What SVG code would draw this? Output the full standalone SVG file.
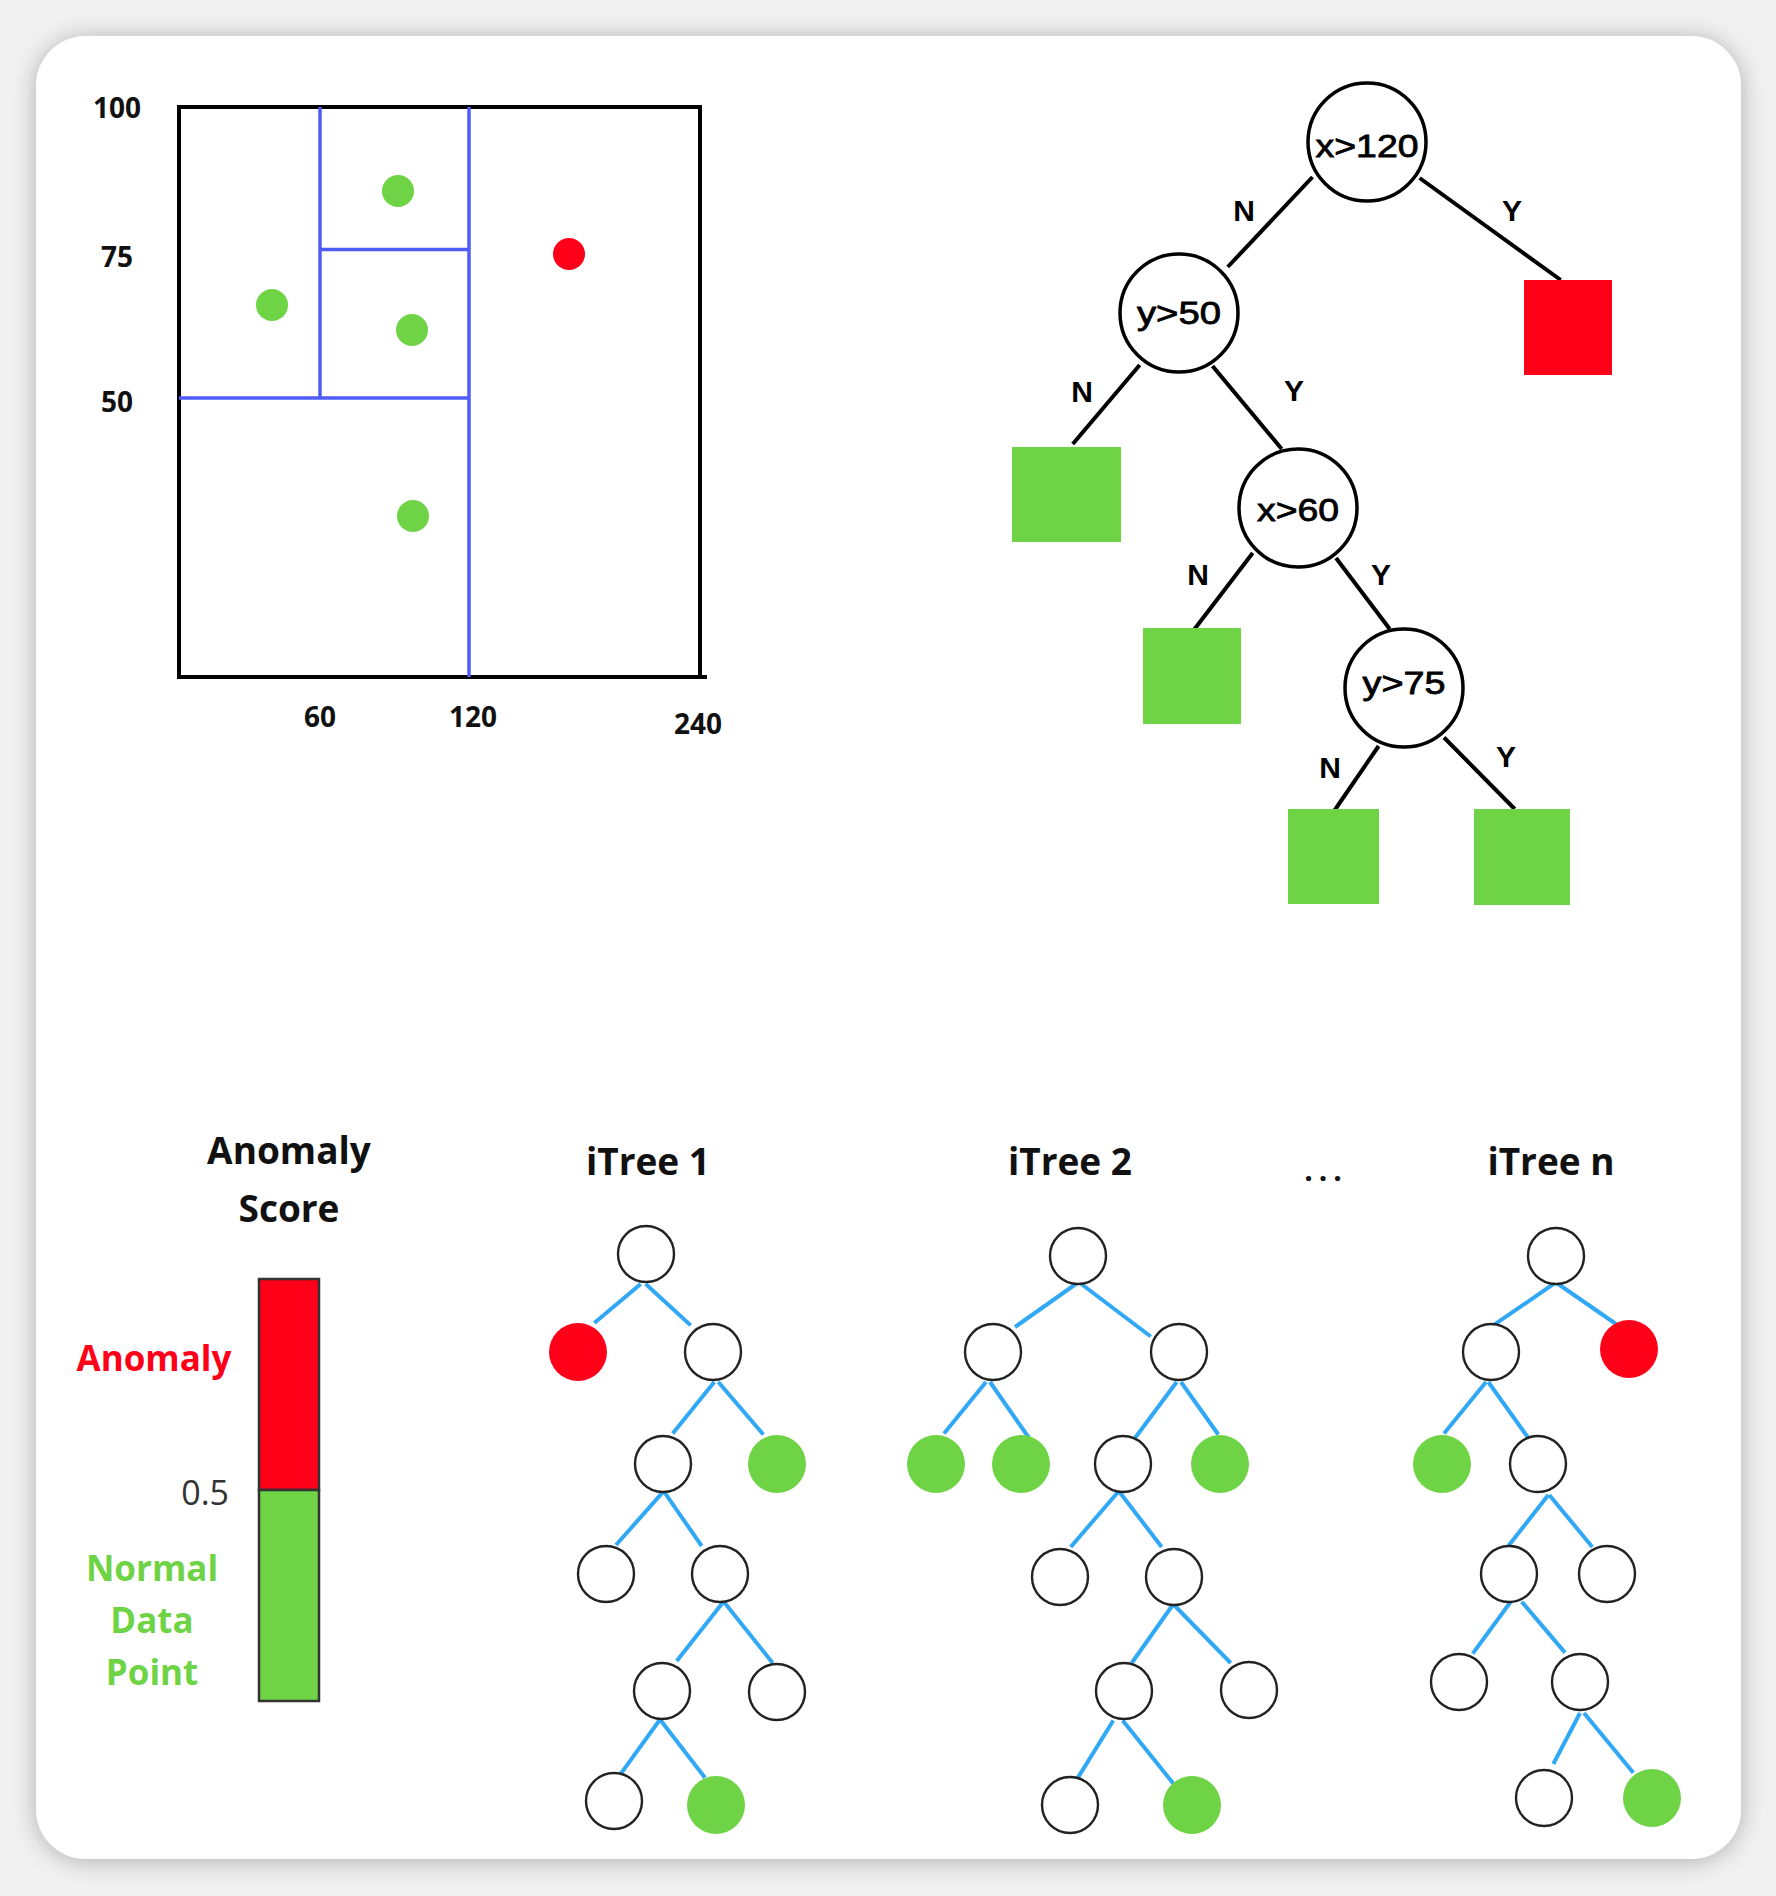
<svg xmlns="http://www.w3.org/2000/svg" width="1776" height="1896" viewBox="0 0 1776 1896">
<defs>
<filter id="shadow" x="-5%" y="-5%" width="110%" height="110%">
<feDropShadow dx="0" dy="2" stdDeviation="12" flood-color="#000" flood-opacity="0.28"/>
</filter>
<style>
.ax{font-family:"Open Sans","Noto Sans",sans-serif;font-weight:700;font-size:28px;fill:#111;text-anchor:middle}
.blue{stroke:#4d5cf6;stroke-width:3.5;fill:none}
.g{fill:#6fd346}
.r{fill:#ff0019}
.dt{stroke:#000;stroke-width:4;fill:none}
.dn{fill:#fff;stroke:#000;stroke-width:3.5}
.dl{font-family:"Liberation Sans",Arial,sans-serif;font-size:32px;fill:#000;stroke:#000;stroke-width:0.8;text-anchor:middle}
.yn{font-family:"Liberation Sans",Arial,sans-serif;font-weight:700;font-size:30px;fill:#000;text-anchor:middle}
.tl{font-family:"Open Sans","Noto Sans",sans-serif;font-weight:700;font-size:37px;fill:#111;text-anchor:middle}
.e{stroke:#30a8f5;stroke-width:4;fill:none}
.n{fill:#fff;stroke:#222;stroke-width:2.4}
</style>
</defs>
<rect x="0" y="0" width="1776" height="1896" fill="#f1f1f1"/>
<rect x="36" y="36" width="1705" height="1823" rx="50" fill="#fff" filter="url(#shadow)"/>

<!-- Scatter plot -->
<g id="scatter">
<rect x="179" y="107" width="521" height="570" fill="none" stroke="#000" stroke-width="4"/>
<line x1="700" y1="677" x2="707" y2="677" stroke="#000" stroke-width="4"/>
<line class="blue" x1="320" y1="107" x2="320" y2="398"/>
<line class="blue" x1="469" y1="107" x2="469" y2="677"/>
<line class="blue" x1="179" y1="398" x2="469" y2="398"/>
<line class="blue" x1="320" y1="249.5" x2="469" y2="249.5"/>
<circle class="g" cx="398" cy="191" r="16"/>
<circle class="r" cx="569" cy="254" r="16"/>
<circle class="g" cx="272" cy="305" r="16"/>
<circle class="g" cx="412" cy="330" r="16"/>
<circle class="g" cx="413" cy="516" r="16"/>
<text class="ax" x="117" y="118">100</text>
<text class="ax" x="117" y="267">75</text>
<text class="ax" x="117" y="412">50</text>
<text class="ax" x="320" y="727">60</text>
<text class="ax" x="473" y="727">120</text>
<text class="ax" x="698" y="734">240</text>
</g>

<!-- Decision tree -->
<g id="dtree-edges">
<line class="dt" x1="1312.5" y1="177" x2="1227.7" y2="267"/>
<line class="dt" x1="1419.6" y1="178" x2="1560.7" y2="280"/>
<line class="dt" x1="1139.7" y1="365" x2="1072.8" y2="444"/>
<line class="dt" x1="1212.5" y1="366" x2="1281.7" y2="449"/>
<line class="dt" x1="1252.7" y1="553" x2="1194.6" y2="629"/>
<line class="dt" x1="1336" y1="558" x2="1389.7" y2="629"/>
<line class="dt" x1="1378.6" y1="746" x2="1334.8" y2="810"/>
<line class="dt" x1="1444" y1="737.5" x2="1514.7" y2="809"/>
<text class="yn" x="1244" y="221">N</text>
<text class="yn" x="1512" y="221">Y</text>
<text class="yn" x="1082" y="402">N</text>
<text class="yn" x="1294" y="401">Y</text>
<text class="yn" x="1198" y="585">N</text>
<text class="yn" x="1381" y="585">Y</text>
<text class="yn" x="1330" y="778">N</text>
<text class="yn" x="1506" y="767">Y</text>
</g>
<g id="dn-root"><circle class="dn" cx="1367" cy="142" r="59"/><text class="dl" x="1367" y="157" textLength="103" lengthAdjust="spacingAndGlyphs">x&gt;120</text></g>
<g id="dn-y50"><circle class="dn" cx="1179" cy="313" r="59"/><text class="dl" x="1179" y="324" textLength="84" lengthAdjust="spacingAndGlyphs">y&gt;50</text></g>
<g id="dn-x60"><circle class="dn" cx="1298" cy="508" r="59"/><text class="dl" x="1298" y="521" textLength="82" lengthAdjust="spacingAndGlyphs">x&gt;60</text></g>
<g id="dn-y75"><circle class="dn" cx="1404" cy="688" r="59"/><text class="dl" x="1404" y="694" textLength="83" lengthAdjust="spacingAndGlyphs">y&gt;75</text></g>
<g id="leaf-red"><rect class="r" x="1524" y="280" width="88" height="95"/></g>
<g id="leaf-g1"><rect class="g" x="1012" y="447" width="109" height="95"/></g>
<g id="leaf-g2"><rect class="g" x="1143" y="628" width="98" height="96"/></g>
<g id="leaf-g3"><rect class="g" x="1288" y="809" width="91" height="95"/></g>
<g id="leaf-g4"><rect class="g" x="1474" y="809" width="96" height="96"/></g>

<!-- Anomaly score bar -->
<g id="score">
<text class="tl" x="289" y="1164">Anomaly</text>
<text class="tl" x="289" y="1222">Score</text>
<rect x="259" y="1279" width="60" height="211" fill="#ff0019" stroke="#333" stroke-width="2.5"/>
<rect x="259" y="1490" width="60" height="211" fill="#6fd346" stroke="#333" stroke-width="2.5"/>
<text x="154" y="1371" font-family="Open Sans, Noto Sans, sans-serif" font-weight="700" font-size="35" fill="#ff0019" text-anchor="middle">Anomaly</text>
<text x="229" y="1505" font-family="Open Sans, Noto Sans, sans-serif" font-size="34" fill="#333" text-anchor="end">0.5</text>
<text x="152" y="1581" font-family="Open Sans, Noto Sans, sans-serif" font-weight="700" font-size="35" fill="#6fd346" text-anchor="middle">Normal</text>
<text x="152" y="1633" font-family="Open Sans, Noto Sans, sans-serif" font-weight="700" font-size="35" fill="#6fd346" text-anchor="middle">Data</text>
<text x="152" y="1685" font-family="Open Sans, Noto Sans, sans-serif" font-weight="700" font-size="35" fill="#6fd346" text-anchor="middle">Point</text>
</g>

<!-- Titles -->
<text class="tl" x="648" y="1175">iTree 1</text>
<text class="tl" x="1070" y="1175">iTree 2</text>
<text class="tl" x="1551" y="1175">iTree n</text>
<text x="1326" y="1181" font-family="Open Sans, Noto Sans, sans-serif" font-weight="700" font-size="30" fill="#111" text-anchor="middle" letter-spacing="6">...</text>

<!-- iTree edges -->
<g id="itree-edges">
<line class="e" x1="640.7" y1="1284" x2="594.3" y2="1323"/>
<line class="e" x1="645.7" y1="1284" x2="690.7" y2="1325.4"/>
<line class="e" x1="714.3" y1="1382" x2="672.7" y2="1433.5"/>
<line class="e" x1="718.3" y1="1382" x2="763.3" y2="1434.5"/>
<line class="e" x1="663.3" y1="1491.7" x2="616" y2="1545"/>
<line class="e" x1="664" y1="1491.7" x2="701.7" y2="1546"/>
<line class="e" x1="723.3" y1="1602" x2="676.7" y2="1661"/>
<line class="e" x1="724" y1="1602" x2="772.7" y2="1663"/>
<line class="e" x1="660" y1="1719.5" x2="620.7" y2="1773.8"/>
<line class="e" x1="660" y1="1719.5" x2="705" y2="1777.7"/>

<line class="e" x1="1077.3" y1="1283" x2="1015" y2="1327"/>
<line class="e" x1="1080" y1="1283" x2="1150.7" y2="1336.5"/>
<line class="e" x1="986" y1="1382" x2="944" y2="1433.5"/>
<line class="e" x1="990" y1="1382" x2="1029" y2="1438"/>
<line class="e" x1="1176.7" y1="1382" x2="1135" y2="1438"/>
<line class="e" x1="1181" y1="1382" x2="1218.3" y2="1434.5"/>
<line class="e" x1="1118.3" y1="1491.7" x2="1070.7" y2="1547"/>
<line class="e" x1="1119.3" y1="1491.7" x2="1161.7" y2="1547"/>
<line class="e" x1="1172.7" y1="1605" x2="1131.7" y2="1663"/>
<line class="e" x1="1174" y1="1605" x2="1230.7" y2="1663"/>
<line class="e" x1="1113.3" y1="1720.5" x2="1077.3" y2="1778.6"/>
<line class="e" x1="1122.7" y1="1720.5" x2="1173.3" y2="1783.5"/>

<line class="e" x1="1555" y1="1283" x2="1493.3" y2="1325.4"/>
<line class="e" x1="1556.7" y1="1283" x2="1616" y2="1324"/>
<line class="e" x1="1486" y1="1382" x2="1444" y2="1433.5"/>
<line class="e" x1="1488.3" y1="1382" x2="1528.3" y2="1438"/>
<line class="e" x1="1548.3" y1="1495" x2="1508.3" y2="1546"/>
<line class="e" x1="1549.3" y1="1495" x2="1592.3" y2="1547"/>
<line class="e" x1="1510.7" y1="1601.7" x2="1472.7" y2="1653.6"/>
<line class="e" x1="1521.7" y1="1601.7" x2="1565" y2="1652.6"/>
<line class="e" x1="1580" y1="1713" x2="1553.3" y2="1764"/>
<line class="e" x1="1584" y1="1713" x2="1633.3" y2="1772.8"/>
</g>

<!-- iTree 1 nodes -->
<g id="t1-root"><circle class="n" cx="646" cy="1254" r="28"/></g>
<g id="t1-red"><circle class="r" cx="578" cy="1352" r="29"/></g>
<g id="t1-n2"><circle class="n" cx="713" cy="1352" r="28"/></g>
<g id="t1-n3"><circle class="n" cx="663" cy="1464" r="28"/></g>
<g id="t1-g1"><circle class="g" cx="777" cy="1464" r="29"/></g>
<g id="t1-n4"><circle class="n" cx="606" cy="1574" r="28"/></g>
<g id="t1-n5"><circle class="n" cx="720" cy="1574" r="28"/></g>
<g id="t1-n6"><circle class="n" cx="662" cy="1691" r="28"/></g>
<g id="t1-n7"><circle class="n" cx="777" cy="1692" r="28"/></g>
<g id="t1-n8"><circle class="n" cx="614" cy="1801" r="28"/></g>
<g id="t1-g2"><circle class="g" cx="716" cy="1805" r="29"/></g>

<!-- iTree 2 nodes -->
<g id="t2-root"><circle class="n" cx="1078" cy="1256" r="28"/></g>
<g id="t2-l"><circle class="n" cx="993" cy="1352" r="28"/></g>
<g id="t2-r"><circle class="n" cx="1179" cy="1352" r="28"/></g>
<g id="t2-gll"><circle class="g" cx="936" cy="1464" r="29"/></g>
<g id="t2-glr"><circle class="g" cx="1021" cy="1464" r="29"/></g>
<g id="t2-rl"><circle class="n" cx="1123" cy="1464" r="28"/></g>
<g id="t2-grr"><circle class="g" cx="1220" cy="1464" r="29"/></g>
<g id="t2-rll"><circle class="n" cx="1060" cy="1577" r="28"/></g>
<g id="t2-rlr"><circle class="n" cx="1174" cy="1577" r="28"/></g>
<g id="t2-rlrl"><circle class="n" cx="1124" cy="1691" r="28"/></g>
<g id="t2-rlrr"><circle class="n" cx="1249" cy="1690" r="28"/></g>
<g id="t2-leaf"><circle class="n" cx="1070" cy="1805" r="28"/></g>
<g id="t2-gleaf"><circle class="g" cx="1192" cy="1805" r="29"/></g>

<!-- iTree n nodes -->
<g id="tn-root"><circle class="n" cx="1556" cy="1256" r="28"/></g>
<g id="tn-l"><circle class="n" cx="1491" cy="1352" r="28"/></g>
<g id="tn-red"><circle class="r" cx="1629" cy="1349" r="29"/></g>
<g id="tn-gll"><circle class="g" cx="1442" cy="1464" r="29"/></g>
<g id="tn-lr"><circle class="n" cx="1538" cy="1464" r="28"/></g>
<g id="tn-lrl"><circle class="n" cx="1509" cy="1574" r="28"/></g>
<g id="tn-lrr"><circle class="n" cx="1607" cy="1574" r="28"/></g>
<g id="tn-lrll"><circle class="n" cx="1459" cy="1682" r="28"/></g>
<g id="tn-lrlr"><circle class="n" cx="1580" cy="1682" r="28"/></g>
<g id="tn-leaf"><circle class="n" cx="1544" cy="1798" r="28"/></g>
<g id="tn-gleaf"><circle class="g" cx="1652" cy="1798" r="29"/></g>
</svg>
